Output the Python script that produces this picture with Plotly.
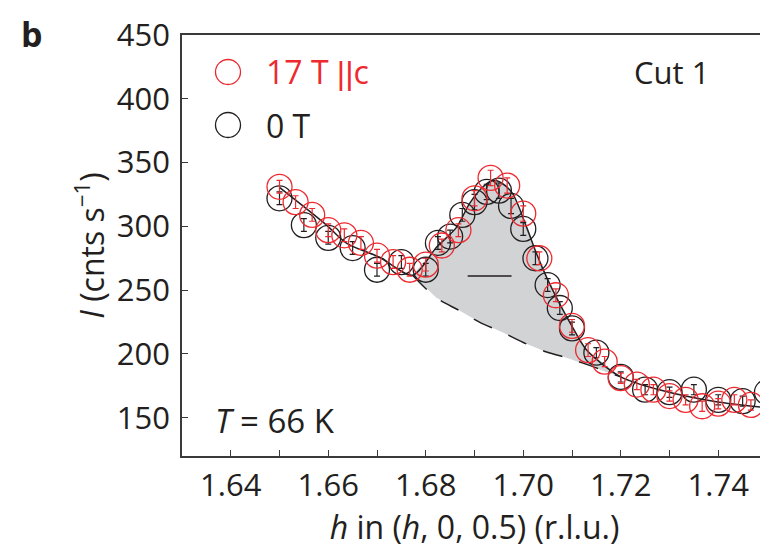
import plotly.graph_objects as go

# ---------------- data ----------------
h_red = [1.6500, 1.6533, 1.6567, 1.6600, 1.6633, 1.6667, 1.6700, 1.6733, 1.6767, 1.6800,
         1.6833, 1.6867, 1.6900, 1.6933, 1.6967, 1.7000, 1.7033, 1.7067, 1.7100, 1.7133,
         1.7167, 1.7200, 1.7233, 1.7267, 1.7300, 1.7333, 1.7367, 1.7400, 1.7433, 1.7467]
I_red = [331, 319, 309, 297, 293, 287, 277, 272, 266, 270,
         285, 297, 322, 338, 332, 310, 275, 246, 222, 203,
         194, 181, 176, 172, 167, 164, 159, 161, 164, 160]
err_red = [5, 5, 5, 5, 5, 5, 5, 5, 5, 5,
           5, 5, 6, 6, 6, 6, 5, 5, 5, 5,
           4, 4, 4, 4, 4, 4, 4, 4, 4, 4]

h_black = [1.6500, 1.6550, 1.6600, 1.6650, 1.6700, 1.6750, 1.6800, 1.6825, 1.6850, 1.6875,
           1.6900, 1.6925, 1.6950, 1.6975, 1.7000, 1.7025, 1.7050, 1.7075, 1.7100, 1.7150,
           1.7200, 1.7250, 1.7300, 1.7350, 1.7400, 1.7450, 1.7500]
I_black = [322, 301, 291, 283, 266, 272, 266, 287, 292, 309,
           319, 327, 328, 316, 298, 275, 254, 236, 220, 201,
           182, 172, 170, 172, 164, 163, 170]
err_black = [5, 5, 5, 5, 5, 5, 5, 5, 5, 5,
             6, 6, 6, 6, 5, 5, 5, 5, 5, 4,
             4, 4, 4, 4, 4, 4, 4]

# fitted total curve (solid line)
fit_h = [1.6500, 1.6597, 1.6638, 1.6705, 1.6773, 1.6822, 1.6863, 1.6890, 1.6916, 1.6937,
         1.6957, 1.6978, 1.7007, 1.7027, 1.7048, 1.7074, 1.7101, 1.7130, 1.7200, 1.7279,
         1.7396, 1.7500]
fit_I = [330.5, 300.8, 286.7, 275.8, 261.7, 283.6, 299.2, 318.0, 330.5, 336.0,
         333.6, 325.8, 299.2, 278.9, 260.0, 239.8, 221.0, 203.0, 182.0, 171.9,
         162.5, 157.8]

# background (dashed line)
bg_h = [1.6773, 1.6822, 1.6869, 1.6910, 1.6957, 1.7000, 1.7048, 1.7089, 1.7121, 1.7200]
bg_I = [261.7, 244.0, 234.0, 225.0, 217.0, 209.0, 201.5, 197.0, 193.0, 182.0]

# resolution bar
res_h = [1.6886, 1.6976]
res_I = [261, 261]

x_tick_vals = [1.64, 1.66, 1.68, 1.70, 1.72, 1.74]
x_tick_text = ["1.64", "1.66", "1.68", "1.70", "1.72", "1.74"]
y_tick_vals = [150, 200, 250, 300, 350, 400, 450]
y_tick_text = ["150", "200", "250", "300", "350", "400", "450"]

RED = "#ec2a30"
BLACK = "#231f20"
AXIS = "#3a3a3a"
FONT = "Open Sans"

fig = go.Figure()

# shaded area between fit and background
lo, hi = bg_h[0], bg_h[-1]
fill_h = [h for h in fit_h if lo <= h <= hi] + bg_h[::-1]
fill_I = [v for h, v in zip(fit_h, fit_I) if lo <= h <= hi] + bg_I[::-1]
fig.add_trace(go.Scatter(x=fill_h, y=fill_I, mode="lines", fill="toself",
                         fillcolor="#d1d3d4", line=dict(width=0), hoverinfo="skip",
                         showlegend=False))

fig.add_trace(go.Scatter(x=bg_h, y=bg_I, mode="lines",
                         line=dict(color=BLACK, width=1.5, dash="20px,18px", shape="spline"),
                         showlegend=False))
fig.add_trace(go.Scatter(x=fit_h, y=fit_I, mode="lines",
                         line=dict(color=BLACK, width=1.5, shape="spline", smoothing=0.8),
                         showlegend=False))
fig.add_trace(go.Scatter(x=res_h, y=res_I, mode="lines",
                         line=dict(color=BLACK, width=1.5), showlegend=False))

fig.add_trace(go.Scatter(x=h_black, y=I_black, mode="markers", name="0 T",
                         marker=dict(symbol="circle-open", size=25, color=BLACK,
                                     line=dict(width=1.3, color=BLACK)),
                         error_y=dict(type="data", array=err_black, color=BLACK,
                                      thickness=1.2, width=3),
                         showlegend=False))
fig.add_trace(go.Scatter(x=h_red, y=I_red, mode="markers", name="17 T ||c",
                         marker=dict(symbol="circle-open", size=25, color=RED,
                                     line=dict(width=1.3, color=RED)),
                         error_y=dict(type="data", array=err_red, color=RED,
                                      thickness=1.2, width=3),
                         showlegend=False))

# the page body has an 8 px margin; figure is sized so the plot lands at the
# reference's pixel positions (plot area x 182..767, y 35..456 in the window)
OFF = 8
W, H = 768 - OFF, 551 - OFF
L, R, T, B = 182 - OFF, 1, 35 - OFF, 95
pw, ph = W - L - R, H - T - B


def px(xp):
    return (xp - OFF - L) / pw


def py(yp):
    return (H - B - (yp - OFF)) / ph


shapes = [
    dict(type="circle", xref="paper", yref="paper",
         x0=px(228 - 12.5), x1=px(228 + 12.5), y0=py(72 + 12.5), y1=py(72 - 12.5),
         line=dict(color=RED, width=1.3)),
    dict(type="circle", xref="paper", yref="paper",
         x0=px(228 - 12.5), x1=px(228 + 12.5), y0=py(125 + 12.5), y1=py(125 - 12.5),
         line=dict(color=BLACK, width=1.3)),
]

annotations = [
    dict(text="17 T <span style=\"font-family:Liberation Sans\">||</span>c",
         x=px(264), y=py(72), xref="paper", yref="paper",
         xanchor="left", yanchor="middle", showarrow=False,
         font=dict(family=FONT, size=32, color=RED)),
    dict(text="0 T", x=px(264), y=py(125), xref="paper", yref="paper",
         xanchor="left", yanchor="middle", showarrow=False,
         font=dict(family=FONT, size=32, color=BLACK)),
    dict(text="Cut 1", x=px(671), y=py(72), xref="paper", yref="paper",
         xanchor="center", yanchor="middle", showarrow=False,
         font=dict(family=FONT, size=31, color=BLACK)),
    dict(text="<i>T</i> = 66 K", x=px(213), y=py(420), xref="paper", yref="paper",
         xanchor="left", yanchor="middle", showarrow=False,
         font=dict(family=FONT, size=33, color=BLACK)),
    dict(text="<b>b</b>", x=px(32), y=py(9), xref="paper", yref="paper",
         xanchor="center", yanchor="top", showarrow=False,
         font=dict(family=FONT, size=34, color=BLACK)),
]

fig.update_layout(
    width=W, height=H,
    margin=dict(l=L, r=R, t=T, b=B, pad=0, autoexpand=False),
    paper_bgcolor="white", plot_bgcolor="white",
    font=dict(family=FONT, size=31, color=BLACK),
    showlegend=False,
    shapes=shapes,
    annotations=annotations,
    xaxis=dict(range=[1.63, 1.75], tickmode="array", tickvals=x_tick_vals,
               ticktext=x_tick_text, ticks="inside", ticklen=6, tickwidth=1.3,
               tickcolor=AXIS, showline=True, mirror=True, linecolor=AXIS,
               linewidth=1.5, showgrid=False, zeroline=False, automargin=False,
               ticklabelstandoff=1,
               minor=dict(ticks="inside", ticklen=6, tickwidth=1.3, tickcolor=AXIS,
                          dtick=0.01, tick0=1.63, showgrid=False),
               tickfont=dict(family=FONT, size=31, color=BLACK),
               title=dict(text="<i>h</i> in (<i>h</i>, 0, 0.5) (r.l.u.)",
                          font=dict(family=FONT, size=32, color=BLACK), standoff=0)),
    yaxis=dict(range=[120, 450], tickmode="array", tickvals=y_tick_vals,
               ticktext=y_tick_text, ticks="inside", ticklen=6, tickwidth=1.3,
               tickcolor=AXIS, showline=True, mirror=True, linecolor=AXIS,
               linewidth=1.5, showgrid=False, zeroline=False, automargin=False,
               ticklabelstandoff=4,
               tickfont=dict(family=FONT, size=31, color=BLACK),
               title=dict(text="<i>I</i> (cnts s<sup>\u22121</sup>)",
                          font=dict(family=FONT, size=32, color=BLACK), standoff=3)),
)

fig.write_html("out.html")
